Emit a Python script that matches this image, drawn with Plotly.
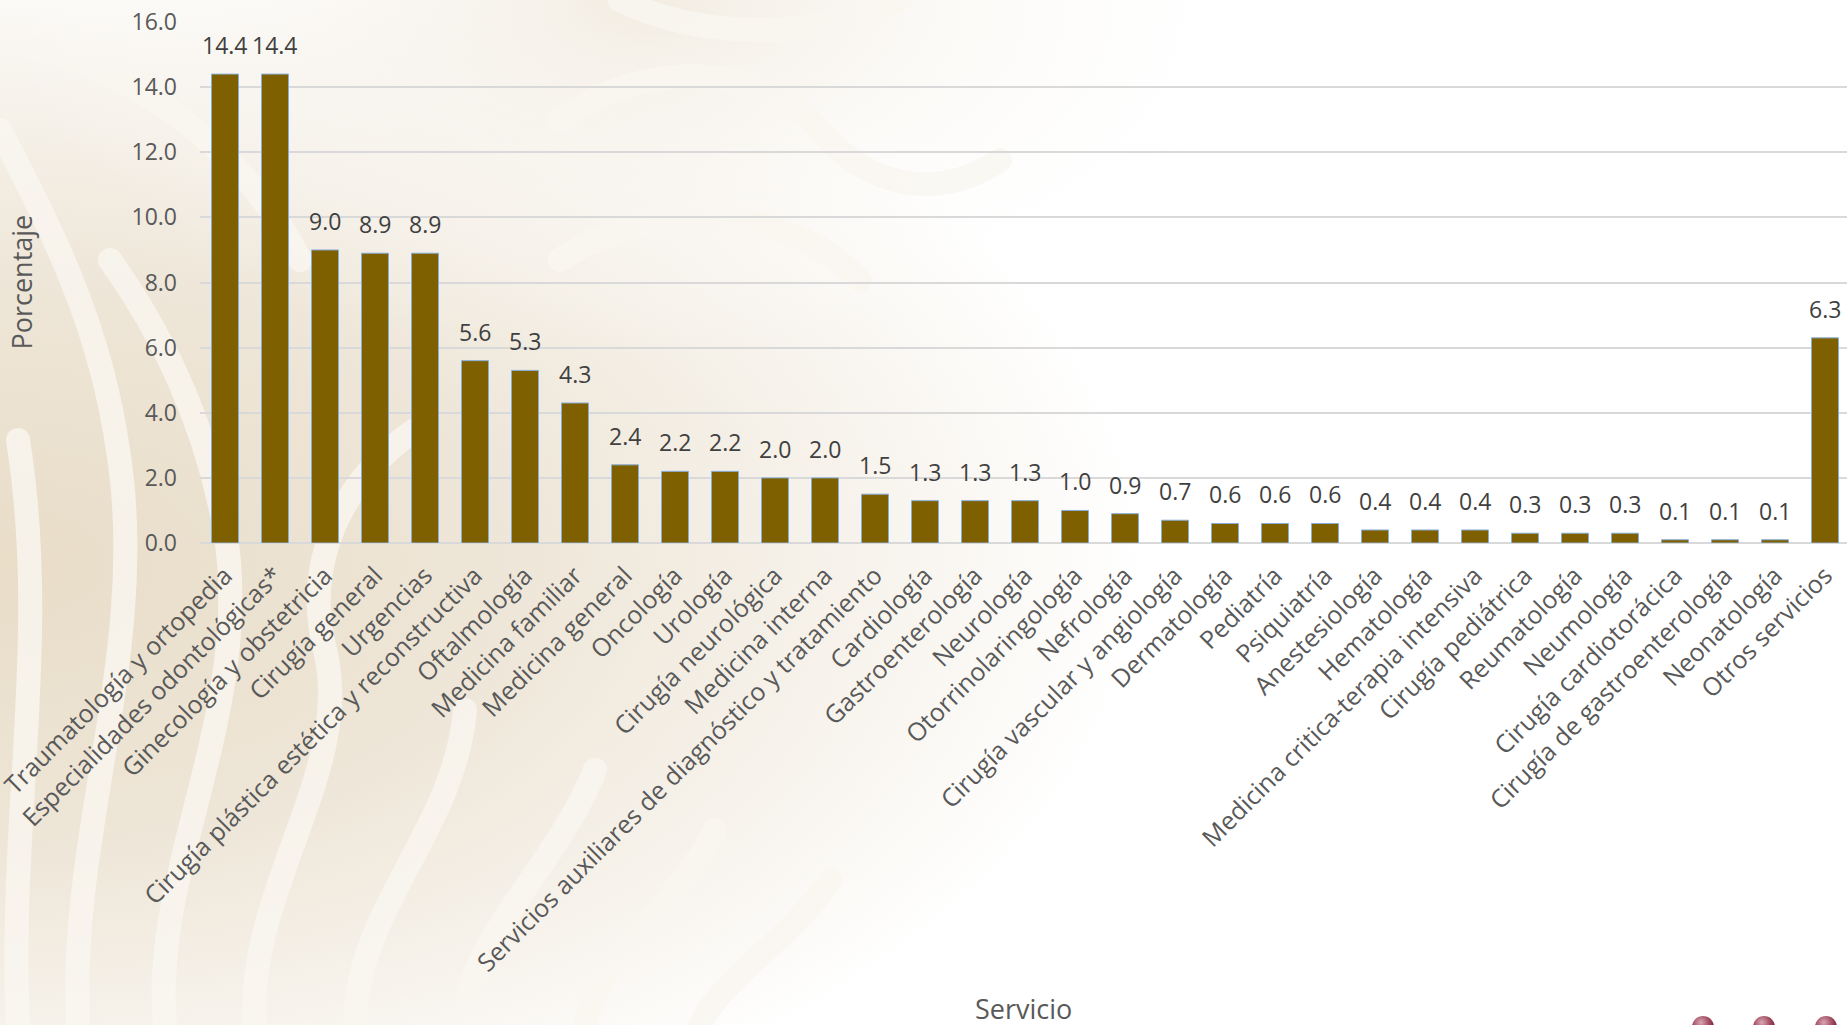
import base64
import plotly.graph_objects as go

# Servicios y porcentaje de quejas
servicios = [
    "Traumatología y ortopedia",
    "Especialidades odontológicas*",
    "Ginecología y obstetricia",
    "Cirugía general",
    "Urgencias",
    "Cirugía plástica estética y reconstructiva",
    "Oftalmología",
    "Medicina familiar",
    "Medicina general",
    "Oncología",
    "Urología",
    "Cirugía neurológica",
    "Medicina interna",
    "Servicios auxiliares de diagnóstico y tratamiento",
    "Cardiología",
    "Gastroenterología",
    "Neurología",
    "Otorrinolaringología",
    "Nefrología",
    "Cirugía vascular y angiología",
    "Dermatología",
    "Pediatría",
    "Psiquiatría",
    "Anestesiología",
    "Hematología",
    "Medicina critica-terapia intensiva",
    "Cirugía pediátrica",
    "Reumatología",
    "Neumología",
    "Cirugía cardiotorácica",
    "Cirugía de gastroenterología",
    "Neonatología",
    "Otros servicios",
]
porcentaje = [14.4, 14.4, 9.0, 8.9, 8.9, 5.6, 5.3, 4.3, 2.4, 2.2, 2.2, 2.0, 2.0,
              1.5, 1.3, 1.3, 1.3, 1.0, 0.9, 0.7, 0.6, 0.6, 0.6, 0.4, 0.4, 0.4,
              0.3, 0.3, 0.3, 0.1, 0.1, 0.1, 6.3]
y_ticks = [0, 2, 4, 6, 8, 10, 12, 14, 16]

W, H = 1847, 1025
L, R, T, B = 200, 0, 22, 482
PW, PH = W - L - R, H - T - B

FONT = "Open Sans"
BAR = "#7F6000"
TXT = "#404040"
LBL = "#595959"

# Decorative background: warm beige wash with soft light ribbons on the left
svg = f"""<svg xmlns="http://www.w3.org/2000/svg" width="{W}" height="{H}" viewBox="0 0 {W} {H}">
<defs>
<radialGradient id="wash" cx="0" cy="0.55" r="0.62" gradientUnits="objectBoundingBox">
<stop offset="0" stop-color="#E9DDC8"/>
<stop offset="0.45" stop-color="#EEE6D8"/>
<stop offset="0.75" stop-color="#F7F3EC"/>
<stop offset="1" stop-color="#FFFFFF"/>
</radialGradient>
<radialGradient id="top" cx="0.35" cy="0" r="0.35" gradientUnits="objectBoundingBox">
<stop offset="0" stop-color="#F1EADE" stop-opacity="0.9"/>
<stop offset="1" stop-color="#FFFFFF" stop-opacity="0"/>
</radialGradient>
<radialGradient id="dot" cx="0.4" cy="0.3" r="0.7">
<stop offset="0" stop-color="#D9A6B3"/>
<stop offset="0.6" stop-color="#9B4258"/>
<stop offset="1" stop-color="#6E2236"/>
</radialGradient>
</defs>
<rect width="{W}" height="{H}" fill="#FFFFFF"/>
<rect width="{W}" height="{H}" fill="url(#wash)"/>
<rect width="{W}" height="{H}" fill="url(#top)"/>
<g fill="none" stroke="#FAF7F1" stroke-linecap="round" opacity="0.8" stroke-width="24">
<path d="M 18 1025 C 8 820, 50 640, 18 440"/>
<path d="M 78 1025 C 68 830, 150 650, 118 450 C 98 310, 40 210, 0 130"/>
<path d="M 165 1025 C 150 870, 255 710, 225 530 C 205 420, 160 330, 110 260"/>
<path d="M 255 1025 C 245 890, 355 770, 325 650 C 300 550, 355 470, 415 430"/>
<path d="M 355 1025 C 355 910, 455 830, 465 710"/>
<path d="M 465 1025 C 465 940, 555 870, 595 770"/>
<path d="M 585 1025 C 595 960, 675 910, 715 830"/>
<path d="M 700 1025 C 720 980, 790 940, 830 880"/>
<path d="M 0 40 C 120 60, 240 140, 300 260"/>
<path d="M 560 120 C 640 60, 760 60, 820 130 C 870 190, 940 200, 1000 160"/>
<path d="M 560 260 C 650 200, 780 200, 860 280"/>
<path d="M 620 0 C 700 40, 820 40, 900 0"/>
</g>
<g fill="url(#dot)">
<circle cx="1703" cy="1027" r="11"/>
<circle cx="1764" cy="1027" r="11"/>
<circle cx="1826" cy="1027" r="11"/>
</g>
</svg>"""
bg_uri = "data:image/svg+xml;base64," + base64.b64encode(svg.encode("utf-8")).decode("ascii")

fig = go.Figure()
fig.add_trace(go.Bar(
    x=list(range(len(servicios))),
    y=porcentaje,
    marker=dict(color=BAR, line=dict(color="#86AEDB", width=1)),
    width=0.54,
    hoverinfo="skip",
))

# Value labels above each bar
for i, v in enumerate(porcentaje):
    fig.add_annotation(
        x=i, y=v, text=f"{v:.1f}", showarrow=False,
        xref="x", yref="y", yanchor="bottom", yshift=11,
        font=dict(family=FONT, size=23, color=TXT),
    )

# Axis titles
fig.add_annotation(
    text="Porcentaje", xref="paper", yref="paper",
    x=(21 - L) / PW, y=0.5, textangle=-90, showarrow=False,
    xanchor="center", yanchor="middle",
    font=dict(family=FONT, size=27, color=LBL),
)
fig.add_annotation(
    text="Servicio", xref="paper", yref="paper",
    x=0.5, y=(PH + T - 1008) / PH, showarrow=False,
    xanchor="center", yanchor="middle",
    font=dict(family=FONT, size=27, color=LBL),
)

fig.add_layout_image(dict(
    source=bg_uri, xref="paper", yref="paper",
    x=-L / PW, y=1 + T / PH, sizex=W / PW, sizey=H / PH,
    xanchor="left", yanchor="top", sizing="stretch", layer="below",
))

fig.update_layout(
    width=W, height=H,
    margin=dict(l=L, r=R, t=T, b=B, pad=0, autoexpand=False),
    paper_bgcolor="#FFFFFF",
    plot_bgcolor="rgba(0,0,0,0)",
    showlegend=False,
    font=dict(family=FONT, size=22, color=LBL),
    xaxis=dict(
        tickmode="array",
        tickvals=list(range(len(servicios))),
        ticktext=servicios,
        tickangle=-45,
        range=[-0.5, 32.44],
        showgrid=False,
        showline=False,
        zeroline=False,
        ticks="",
        automargin=False,
        ticklabelstandoff=12,
        ticklabeloverflow="allow",
        tickfont=dict(family=FONT, size=25, color=LBL),
    ),
    yaxis=dict(
        range=[0, 16],
        tickmode="array",
        tickvals=y_ticks,
        ticktext=[f"{t:.1f}" for t in y_ticks],
        showgrid=True,
        gridcolor="#D9D9D9",
        gridwidth=1.5,
        zeroline=True,
        zerolinecolor="#D9D9D9",
        zerolinewidth=2,
        showline=False,
        ticks="",
        automargin=False,
        ticklabelstandoff=22,
        tickfont=dict(family=FONT, size=23, color=LBL),
    ),
)

fig.write_html("out.html")
